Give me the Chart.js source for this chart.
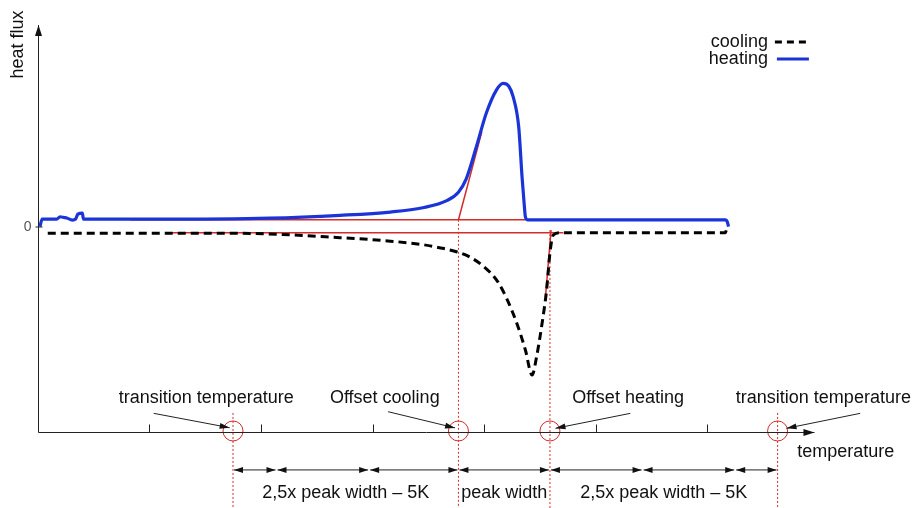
<!DOCTYPE html>
<html>
<head>
<meta charset="utf-8">
<script src="https://cdn.jsdelivr.net/npm/chart.js@4.4.0/dist/chart.umd.min.js"></script>
<style>
html, body { margin: 0; padding: 0; background: #fff; }
#wrap { width: 915px; height: 508px; }
</style>
</head>
<body>
<div id="wrap"><canvas id="dsc"></canvas></div>
<script>
// temperature axis 0..70 (ticks every 10), heat flux -100..100 with 0 in the middle
const heatingTemp = [0.2, 0.4, 1.7, 2.0, 2.4, 2.6, 3.1, 3.4, 3.6, 4.0, 4.1, 10.1, 20.8, 27.1, 31.6, 34.5, 36.7, 37.7, 38.4, 39.3, 40.2, 41.1, 41.7, 42.2, 42.6, 43.1, 43.4, 43.6, 43.7, 43.9, 44.1, 61.6, 61.8, 61.9]
const heatingFlux = [0.2, 3.8, 3.8, 5.0, 4.6, 4.4, 3.4, 3.9, 6.3, 6.8, 3.8, 3.8, 4.3, 5.7, 7.3, 9.4, 13.0, 17.0, 23.5, 39.0, 55.6, 66.8, 70.1, 68.8, 63.6, 48.9, 24.5, 10.7, 4.9, 3.5, 3.5, 3.5, 2.4, 0.2]
const coolingTemp = [0.9, 10.1, 18.2, 27.1, 31.6, 34.5, 36.1, 37.6, 38.7, 39.9, 41.2, 42.1, 43.0, 43.7, 44.3, 44.7, 45.2, 45.6, 45.9, 46.2, 46.8, 61.6, 61.8]
const coolingFlux = [-3.0, -3.0, -3.1, -5.2, -6.9, -8.6, -10.2, -12.2, -14.6, -19.0, -26.5, -35.8, -48.0, -60.0, -72.2, -63.4, -46.8, -30.7, -12.7, -3.9, -2.8, -2.8, 0.5]

// construction lines (red): [temp, flux] pairs
const heatingBaseline = [[8.3, 3.5], [44.0, 3.5]]
const heatingTangent = [[37.7, 3.4], [39.8, 46.5]]
const coolingBaseline = [[11.9, -2.8], [47.1, -2.8]]
const coolingTangent = [[46.0, -1.5], [45.5, -34.2]]

const tempTicks = [10, 20, 30, 40, 50, 60]
// transition, offset cooling, offset heating, transition
const markerTemps = [17.5, 37.7, 45.9, 66.3]
const markerTopFlux = [-90.7, 3.5, -1.5, -90.7]
const dimStops = [17.5, 21.4, 29.7, 37.7, 45.9, 54.2, 62.5, 66.3]
const dimLabels = [
    {from: 17.5, to: 37.7, text: '2,5x peak width \u2013 5K'},
    {from: 37.7, to: 45.9, text: 'peak width'},
    {from: 45.9, to: 66.3, text: '2,5x peak width \u2013 5K'}
]
const callouts = [
    {text: 'transition temperature', tx: 15.1, from: [10.4, -90.9], to: [17.2, -97.9]},
    {text: 'Offset cooling', tx: 31.1, from: [31.4, -90.1], to: [37.4, -98.0]},
    {text: 'Offset heating', tx: 52.9, from: [53.1, -90.9], to: [46.4, -98.2]},
    {text: 'transition temperature', tx: 70.4, from: [73.7, -90.9], to: [67.1, -98.2]}
]

const BLUE = '#1b34d8'
const RED = '#d42b2b'
const FONT = '18px "Liberation Sans", Arial, sans-serif'

const pts = (xs, ys) => xs.map((v, i) => ({x: v, y: ys[i]}))
const pairs = arr => arr.map(p => ({x: p[0], y: p[1]}))

function redLine(data) {
    return {data: pairs(data), showLine: true, borderColor: RED, borderWidth: 1.5, pointRadius: 0, clip: false}
}

const datasets = [
    {label: 'heating', data: pts(heatingTemp, heatingFlux), showLine: true, borderColor: BLUE, borderWidth: 3.2,
        pointRadius: 0, cubicInterpolationMode: 'monotone', clip: false},
    {label: 'cooling', data: pts(coolingTemp, coolingFlux), showLine: true, borderColor: '#000', borderWidth: 3,
        borderDash: [8, 5], pointRadius: 0, cubicInterpolationMode: 'monotone', clip: false},
    redLine(heatingTangent),
    redLine(coolingTangent),
    redLine(heatingBaseline),
    redLine(coolingBaseline),
    {data: markerTemps.map(t => ({x: t, y: -99.5})), showLine: false, pointStyle: 'circle', pointRadius: 10,
        pointBorderColor: RED, pointBackgroundColor: 'rgba(0,0,0,0)', pointBorderWidth: 1, clip: false}
]
markerTemps.forEach((t, i) => {
    datasets.push({data: [{x: t, y: markerTopFlux[i]}, {x: t, y: -140}], showLine: true, borderColor: RED,
        borderWidth: 1, borderDash: [2, 2], pointRadius: 0, clip: false})
})

function arrowHead(ctx, x0, y0, x1, y1, len, half) {
    const a = Math.atan2(y1 - y0, x1 - x0)
    ctx.beginPath()
    ctx.moveTo(x1, y1)
    ctx.lineTo(x1 - len * Math.cos(a) + half * Math.sin(a), y1 - len * Math.sin(a) - half * Math.cos(a))
    ctx.lineTo(x1 - len * Math.cos(a) - half * Math.sin(a), y1 - len * Math.sin(a) + half * Math.cos(a))
    ctx.closePath()
    ctx.fill()
}

function seg(ctx, x0, y0, x1, y1) {
    ctx.beginPath()
    ctx.moveTo(x0, y0)
    ctx.lineTo(x1, y1)
    ctx.stroke()
}

const sketch = {
    id: 'sketch',
    afterDraw(chart) {
        const {ctx, chartArea, scales} = chart
        const X = v => scales.x.getPixelForValue(v)
        const Y = v => scales.y.getPixelForValue(v)
        ctx.save()
        ctx.strokeStyle = '#222'
        ctx.fillStyle = '#111'
        ctx.lineWidth = 1

        // axes with arrows
        const ax = Math.round(X(0)) + 0.5, ay = Math.round(Y(-100)) + 0.5
        seg(ctx, ax, ay, X(69.6), ay)
        arrowHead(ctx, ax, ay, X(69.6), ay, 11, 3.5)
        seg(ctx, ax, ay, ax, Y(98.5))
        arrowHead(ctx, ax, ay, ax, Y(98.5), 11, 3.5)
        tempTicks.forEach(t => seg(ctx, Math.round(X(t)) + 0.5, ay, Math.round(X(t)) + 0.5, ay - 8))
        seg(ctx, ax - 3, Y(0), ax + 4, Y(0))

        ctx.font = '14px "Liberation Sans", Arial, sans-serif'
        ctx.fillStyle = '#555'
        ctx.textAlign = 'right'
        ctx.textBaseline = 'middle'
        ctx.fillText('0', ax - 7, Y(0))

        ctx.fillStyle = '#111'
        ctx.font = FONT
        ctx.save()
        ctx.translate(ax - 20, Y(89))
        ctx.rotate(-Math.PI / 2)
        ctx.textAlign = 'center'
        ctx.fillText('heat flux', 0, 0)
        ctx.restore()

        ctx.textAlign = 'left'
        ctx.fillText('temperature', X(68.05), Y(-109.6))

        // callouts
        ctx.textAlign = 'center'
        callouts.forEach(c => {
            ctx.fillText(c.text, X(c.tx), Y(-83.4))
            seg(ctx, X(c.from[0]), Y(c.from[1]), X(c.to[0]), Y(c.to[1]))
            arrowHead(ctx, X(c.from[0]), Y(c.from[1]), X(c.to[0]), Y(c.to[1]), 10, 3)
        })

        // dimension arrows
        const dy = Y(-118.5)
        for (let i = 0; i < dimStops.length - 1; i++) {
            const a = X(dimStops[i]) + 1, b = X(dimStops[i + 1]) - 1
            seg(ctx, a, dy, b, dy)
            arrowHead(ctx, b, dy, a, dy, 9, 3)
            arrowHead(ctx, a, dy, b, dy, 9, 3)
        }
        dimLabels.forEach(d => ctx.fillText(d.text, (X(d.from) + X(d.to)) / 2, Y(-129.8)))

        // legend: text then line sample
        const lr = chartArea.right
        ctx.textAlign = 'right'
        ctx.fillText('cooling', lr - 51, chartArea.top + 20)
        ctx.fillText('heating', lr - 51, chartArea.top + 37)
        ctx.lineWidth = 3
        ctx.strokeStyle = '#000'
        ctx.setLineDash([7, 5])
        seg(ctx, lr - 44, chartArea.top + 20, lr - 10, chartArea.top + 20)
        ctx.setLineDash([])
        ctx.strokeStyle = BLUE
        seg(ctx, lr - 42, chartArea.top + 37, lr - 10, chartArea.top + 37)
        ctx.restore()
    }
}

new Chart(document.getElementById('dsc'), {
    type: 'scatter',
    data: {datasets},
    options: {
        responsive: true,
        maintainAspectRatio: false,
        animation: false,
        layout: {padding: {left: 37.7, right: 96.1, top: 22, bottom: 76}},
        plugins: {legend: {display: false}, tooltip: {enabled: false}},
        scales: {
            x: {type: 'linear', min: 0, max: 70, display: false},
            y: {type: 'linear', min: -100, max: 100, display: false}
        }
    },
    plugins: [sketch]
})
</script>
</body>
</html>
